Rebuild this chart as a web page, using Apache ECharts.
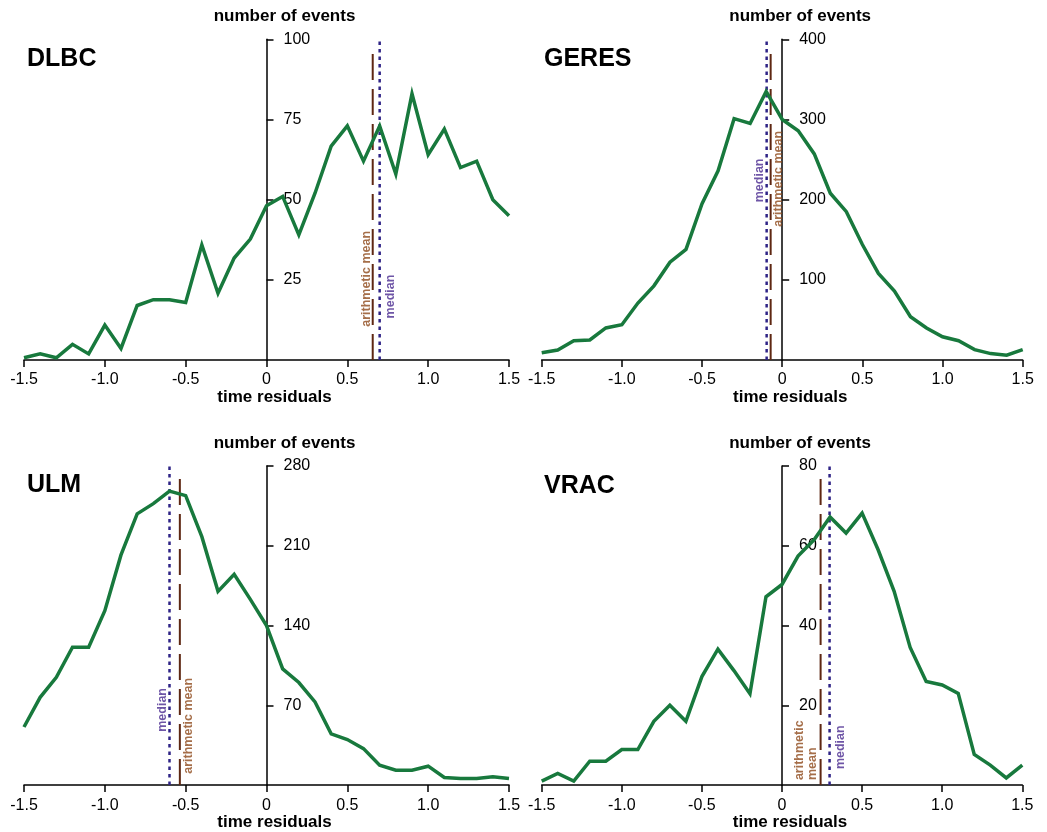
<!DOCTYPE html>
<html>
<head>
<meta charset="utf-8">
<script src="https://cdn.jsdelivr.net/npm/echarts@6/dist/echarts.min.js"></script>
<style>
html,body{margin:0;padding:0;background:#fff;}
#chart{width:1047px;height:832px;}
</style>
</head>
<body>
<div id="chart"></div>
<script>
// ---- data ----
const panelNames = ['DLBC', 'GERES', 'ULM', 'VRAC'];
const xValues = [-1.5,-1.4,-1.3,-1.2,-1.1,-1.0,-0.9,-0.8,-0.7,-0.6,-0.5,-0.4,-0.3,-0.2,-0.1,0,
                 0.1,0.2,0.3,0.4,0.5,0.6,0.7,0.8,0.9,1.0,1.1,1.2,1.3,1.4,1.5];
const xTickLabels = ['-1.5','-1.0','-0.5','0','0.5','1.0','1.5'];

const dlbcCounts = [0.7,1.9,0.7,4.9,1.9,10.9,3.6,17,18.8,18.8,17.9,35.9,20.8,31.8,37.7,48.1,
                    51,39,52,66.7,73,62,73,58,83,64,72,60,62,50,45];
const geresCounts = [9,12.5,24,25,40,44,71,92.5,122,138,195,236,301,295,335,300,
                     286,257,208,185,144,108,86,54,40,29,24,13,8,6,13];
const ulmCounts = [51,77,94.6,121,121,153,202,238,247,258,254,218,170,185,163,140,
                   102,90,73,45,40,32,17.5,13,13,16.6,6.7,5.8,5.8,7.3,5.8];
const vracCounts = [1,2.9,1,6,6,8.9,8.9,16,20,16,27.2,34.1,28.7,22.9,47.2,50.3,
                    57.4,61.5,67.2,63.2,68.2,59,48.6,34.5,26,25.1,23,7.7,5,1.8,5];
const allCounts = [dlbcCounts, geresCounts, ulmCounts, vracCounts];

const yMax = [100, 400, 280, 80];
const yStep = [25, 100, 70, 20];

const meanX = [0.657, -0.072, -0.536, 0.241];
const medianX = [0.70, -0.097, -0.60, 0.297];
const meanTop = [97.9, 391.6, 275, 78.6];
const medianTop = [100, 400, 280, 80];

// label anchor values (y) and text
const meanLabelY = [25.3, 226, 52, 1.25];
const medianLabelY = [19.8, 224, 66, 9.5];
const meanLabelText = ['arithmetic mean', 'arithmetic mean', 'arithmetic mean', 'arithmetic\nmean'];
const medianLabelText = ['median', 'median', 'median', 'median'];

// ---- layout / style ----
const grids = [
  {left: 24, top: 39.3, width: 485, height: 320.7},
  {left: 541.7, top: 39.3, width: 481, height: 320.7},
  {left: 24, top: 466, width: 485, height: 320.7},
  {left: 541.7, top: 466, width: 480.6, height: 320.7}
];
const titlePos = [
  {left: 27, top: 47},
  {left: 544, top: 47},
  {left: 27, top: 473},
  {left: 544, top: 474}
];
const meanLabelDx = [-6.5, 8, 9, -15];
const medianLabelDx = [11, -7, -7, 11];
const meanLabelAlign = ['center', 'center', 'center', 'left'];

const FONT = "'Liberation Sans', Arial, sans-serif";
const GREEN = '#18793d';
const MEAN_COLOR = '#5e2712';
const MEDIAN_COLOR = '#2e2386';
const MEAN_TEXT = '#8f4a1c';
const MEDIAN_TEXT = '#4a2a90';

const option = {
  animation: false,
  backgroundColor: '#fff',
  title: panelNames.map((n, i) => ({
    text: n, left: titlePos[i].left, top: titlePos[i].top, padding: 0,
    textStyle: {fontFamily: FONT, fontSize: 25, fontWeight: 'bold', color: '#000'}
  })),
  grid: grids.map(g => Object.assign({containLabel: false}, g)),
  xAxis: grids.map((g, i) => ({
    type: 'value', gridIndex: i, min: -1.5, max: 1.5, interval: 0.5,
    name: 'time residuals', nameLocation: 'middle', nameGap: 36,
    nameTextStyle: {fontFamily: FONT, fontSize: 17, fontWeight: 'bold', color: '#000',
      align: 'center', verticalAlign: 'middle', padding: [0, 0, 0, 16]},
    axisLine: {show: true, onZero: false, lineStyle: {color: '#000', width: 1.5}},
    axisTick: {show: true, length: 7, lineStyle: {color: '#000', width: 1.5}},
    axisLabel: {fontFamily: FONT, fontSize: 16, color: '#000', margin: 12,
      showMinLabel: true, showMaxLabel: true,
      formatter: v => xTickLabels[Math.round((v + 1.5) / 0.5)]},
    splitLine: {show: false}
  })),
  // the y axis sits at x = 0, i.e. the middle of each grid
  yAxis: grids.map((g, i) => ({
    type: 'value', gridIndex: i, min: 0, max: yMax[i], interval: yStep[i],
    position: 'left', offset: -g.width / 2,
    name: 'number of events', nameLocation: 'end', nameGap: 23,
    nameTextStyle: {fontFamily: FONT, fontSize: 17, fontWeight: 'bold', color: '#000',
      align: 'center', verticalAlign: 'middle', padding: [0, 0, 0, 36]},
    axisLine: {show: true, onZero: false, lineStyle: {color: '#000', width: 1.5}},
    axisTick: {show: true, inside: true, length: 7, lineStyle: {color: '#000', width: 1.5}},
    axisLabel: {inside: true, margin: 17, fontFamily: FONT, fontSize: 16, color: '#000',
      showMinLabel: false},
    splitLine: {show: false}
  })),
  series: []
};

for (let i = 0; i < 4; i++) {
  option.series.push({
    type: 'line', xAxisIndex: i, yAxisIndex: i, z: 2,
    data: [[meanX[i], 0], [meanX[i], meanTop[i]]],
    symbol: 'none', silent: true,
    lineStyle: {color: MEAN_COLOR, width: 2, type: [26, 9]}
  });
  option.series.push({
    type: 'line', xAxisIndex: i, yAxisIndex: i, z: 2,
    data: [[medianX[i], 0], [medianX[i], medianTop[i]]],
    symbol: 'none', silent: true,
    lineStyle: {color: MEDIAN_COLOR, width: 2.5, type: [3.5, 4]}
  });
  option.series.push({
    type: 'line', xAxisIndex: i, yAxisIndex: i, z: 3,
    data: xValues.map((x, k) => [x, allCounts[i][k]]),
    symbol: 'none', silent: true,
    lineStyle: {color: GREEN, width: 3.5, join: 'miter'}
  });
  // label offset is applied in the rotated frame: [0, d] shifts the text right by d
  option.series.push({
    type: 'scatter', xAxisIndex: i, yAxisIndex: i, z: 4, silent: true,
    symbolSize: 1, itemStyle: {color: 'rgba(0,0,0,0)'},
    data: [[meanX[i], meanLabelY[i]]],
    label: {show: true, position: 'inside', rotate: 90, offset: [0, meanLabelDx[i]],
      align: meanLabelAlign[i], verticalAlign: 'middle',
      formatter: meanLabelText[i], fontFamily: FONT, fontSize: 12.5, fontWeight: 'bold',
      color: MEAN_TEXT, lineHeight: 13}
  });
  option.series.push({
    type: 'scatter', xAxisIndex: i, yAxisIndex: i, z: 4, silent: true,
    symbolSize: 1, itemStyle: {color: 'rgba(0,0,0,0)'},
    data: [[medianX[i], medianLabelY[i]]],
    label: {show: true, position: 'inside', rotate: 90, offset: [0, medianLabelDx[i]],
      align: 'center', verticalAlign: 'middle',
      formatter: medianLabelText[i], fontFamily: FONT, fontSize: 12.5, fontWeight: 'bold',
      color: MEDIAN_TEXT}
  });
}

const chart = echarts.init(document.getElementById('chart'), null, {renderer: 'canvas'});
chart.setOption(option);
</script>
</body>
</html>
